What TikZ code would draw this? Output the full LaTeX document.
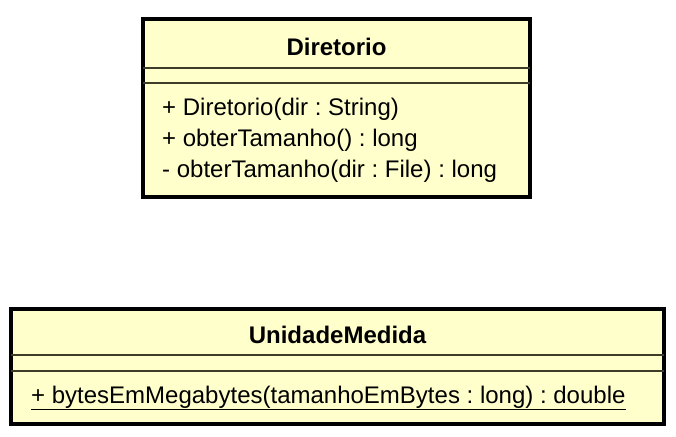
\documentclass[tikz,border=0pt]{standalone}
\usepackage{fontspec}
\setmainfont{Liberation Sans}
\definecolor{umlfill}{RGB}{255,255,204}
\definecolor{sepline}{RGB}{60,60,40}
\begin{document}
\frenchspacing
\begin{tikzpicture}[x=1pt,y=-1pt,
  classbox/.style={draw=black,line width=3.5pt,fill=umlfill},
  sep/.style={draw=sepline,line width=1.5pt},
  title/.style={font=\fontsize{24}{28}\selectfont\bfseries,inner sep=0pt},
  member/.style={font=\fontsize{24}{28}\selectfont,inner sep=0pt,anchor=west}]
\useasboundingbox (0,0) rectangle (676,436);
% Diretorio
\path[classbox] (143,19) rectangle (530,197);
\coordinate (d1l) at (143,68); \coordinate (d1r) at (530,68);
\coordinate (d2l) at (143,83); \coordinate (d2r) at (530,83);
\draw[sep] (d1l) -- (d1r);
\draw[sep] (d2l) -- (d2r);
\node[title] (dtitle) at (336.5,47) {Diretorio};
\node[member] (dm1) at (162,109) {+ Diretorio(dir : String)};
\node[member] (dm2) at (162,140) {+ obterTamanho() : long};
\node[member] (dm3) at (162,171) {- obterTamanho(dir : File) : long};
% UnidadeMedida
\path[classbox] (11,309) rectangle (664,424);
\coordinate (u1l) at (11,355); \coordinate (u1r) at (664,355);
\coordinate (u2l) at (11,371); \coordinate (u2r) at (664,371);
\draw[sep] (u1l) -- (u1r);
\draw[sep] (u2l) -- (u2r);
\node[title] (utitle) at (337.5,335) {UnidadeMedida};
\node[member] (um1) at (31,398) {\underline{+ bytesEmMegabytes(tamanhoEmBytes : long) : double}};
\end{tikzpicture}
\end{document}
